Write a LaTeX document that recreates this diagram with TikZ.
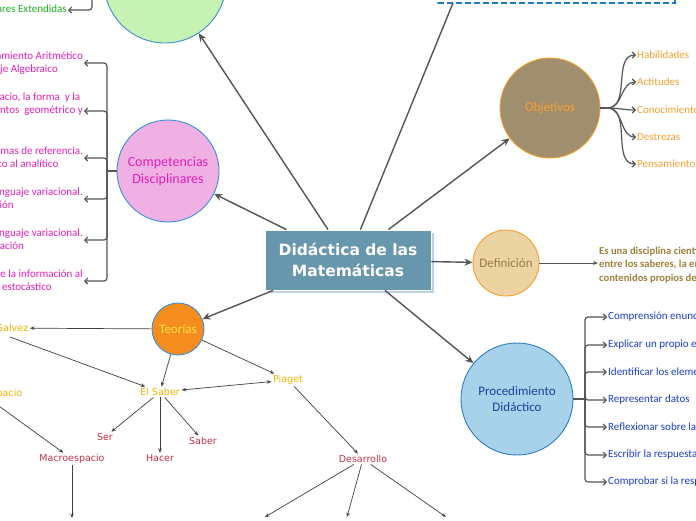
\documentclass[tikz,border=0pt]{standalone}
\usepackage{fontspec}
\setmainfont{Carlito}
\newfontfamily\dv{DejaVu Sans}
\usetikzlibrary{arrows.meta}
\definecolor{conn}{HTML}{555555}
\definecolor{titleblue}{HTML}{6896AD}
\definecolor{shadowblue}{HTML}{BBD2E0}
\definecolor{cborder}{HTML}{3A8FD6}
\definecolor{greenfill}{HTML}{C6F2B4}
\definecolor{greentext}{HTML}{1FB01F}
\definecolor{pinkfill}{HTML}{F1B0E4}
\definecolor{magenta}{HTML}{E31FB8}
\definecolor{teofill}{HTML}{F58D1F}
\definecolor{teotext}{HTML}{FFE23A}
\definecolor{yel}{HTML}{F5B400}
\definecolor{redt}{HTML}{C8304A}
\definecolor{objfill}{HTML}{A08F6E}
\definecolor{orangeb}{HTML}{F5A030}
\definecolor{deffill}{HTML}{ECD3A2}
\definecolor{deftext}{HTML}{9C7C48}
\definecolor{desctext}{HTML}{A0803C}
\definecolor{procfill}{HTML}{A8D2EA}
\definecolor{procborder}{HTML}{2A7FC2}
\definecolor{proctext}{HTML}{1C3FA8}
\definecolor{procchild}{HTML}{1C3FC8}
\definecolor{dashblue}{HTML}{1F7FC4}
\tikzset{
  maincon/.style={draw=conn, line width=1.4pt, -{Stealth[length=8pt,width=7pt,inset=2.5pt]}},
  brack/.style={draw=conn, line width=1.2pt, rounded corners=3pt},
  brackarrow/.style={brack, -{Straight Barb[length=3pt,width=6pt]}},
  thinarrow/.style={draw=black!75, line width=0.7pt, -{Stealth[length=4.5pt,width=3.5pt]}},
  bub/.style={circle, inner sep=0pt, line width=0.9pt, align=center},
  lbl/.style={inner sep=1pt, font=\fontsize{11}{13.5}\selectfont, align=left},
  teolbl/.style={inner sep=1.5pt, font=\dv\fontsize{9.6}{11}\selectfont, text=yel},
  redlbl/.style={inner sep=1.5pt, font=\dv\fontsize{9.5}{11}\selectfont, text=redt},
}
\begin{document}
\begin{tikzpicture}[x=1pt,y=-1pt]
\useasboundingbox (0,0) rectangle (696,520);
\clip (0,0) rectangle (696,520);
\fill[white] (0,0) rectangle (696,520);

% dashed box at top
\draw[dashblue, line width=1.3pt, dash pattern=on 6pt off 3pt] (438,-60) rectangle (675,3);
\coordinate (dbpt) at (453,3);

% title
\fill[shadowblue] (268,233) rectangle (434,293);
\node[rectangle, fill=titleblue, draw=white, line width=0.8pt, minimum width=166pt, minimum height=60pt,
  inner sep=0pt, text=white, align=center, font=\dv\bfseries\fontsize{15.5}{21}\selectfont] (title) at (348,260) {Didáctica de las\\Matemáticas};

% bubbles
\node[bub, fill=greenfill, draw=cborder, minimum size=122pt] (green) at (165,-18) {};
\node[bub, fill=pinkfill, draw=cborder, minimum size=102pt, text=magenta, font=\fontsize{14}{17}\selectfont] (comp) at (168,171) {Competencias\\Disciplinares};
\node[bub, fill=objfill, draw=orangeb, minimum size=100pt, text=orangeb, font=\fontsize{13}{15}\selectfont] (obj) at (550,108) {Objetivos};
\node[bub, fill=deffill, draw=orangeb, minimum size=66pt, text=deftext, font=\fontsize{13}{15}\selectfont] (def) at (506,263) {Definición};
\node[bub, fill=procfill, draw=procborder, minimum size=112pt, text=proctext, font=\fontsize{13}{15.5}\selectfont] (proc) at (517,399) {Procedimiento\\Didáctico};
\node[bub, fill=teofill, draw=cborder, minimum size=52pt, text=teotext, font=\fontsize{13}{15}\selectfont] (teo) at (178,329) {Teorías};

% main connectors
\draw[maincon] (title) -- (green);
\draw[draw=conn, line width=1.4pt] (title) -- (dbpt);
\draw[maincon] (title) -- (obj);
\draw[maincon] (title) -- (def);
\draw[maincon] (title) -- (proc);
\draw[maincon] (title) -- (comp);
\draw[maincon] (title) -- (teo);

% green child
\node[lbl, text=greentext, anchor=east] (gx) at (68,10) {Competencias Disciplinares Extendidas};
\draw[brack] (green.west) -- (92,-18) coordinate (gb);
\draw[brackarrow] (gb) |- (gx.east);

% competencias children
\node[lbl, text=magenta, anchor=east] (c1) at (84,63) {Del Pensamiento Aritmético\\al Lenguaje Algebraico};
\node[lbl, text=magenta, anchor=east] (c2) at (84,111) {Del tratamiento del espacio, la forma \ y la\\medida, a los pensamientos \ geométrico y\\trigonométrico};
\node[lbl, text=magenta, anchor=east] (c3) at (84,158) {Lugares geométricos y sistemas de referencia.\\Del pensamiento geométrico al analítico};
\node[lbl, text=magenta, anchor=east] (c4) at (84,199) {Pensamiento y lenguaje variacional.\\Cambio y predicción};
\node[lbl, text=magenta, anchor=east] (c5) at (84,240) {Pensamiento y lenguaje variacional.\\Cambio y acumulación};
\node[lbl, text=magenta, anchor=east] (c6) at (84,281) {Del manejo de la información al\\pensamiento estocástico};
\draw[brack] (comp.west) -- (107,171) coordinate (cb);
\foreach \c in {c1,c2,c3,c4,c5,c6} \draw[brackarrow] (cb) |- (\c.east);

% objetivos children
\node[lbl, text=orangeb, anchor=west] (o1) at (636,55) {Habilidades};
\node[lbl, text=orangeb, anchor=west] (o2) at (636,82) {Actitudes};
\node[lbl, text=orangeb, anchor=west] (o3) at (636,110) {Conocimientos};
\node[lbl, text=orangeb, anchor=west] (o4) at (636,137) {Destrezas};
\node[lbl, text=orangeb, anchor=west] (o5) at (636,164) {Pensamiento};
\draw[draw=conn, line width=1.3pt] (obj.east) -- ++(7,0) coordinate (ob);
\foreach \o in {o1,o2,o3,o4,o5} \draw[draw=conn, line width=1.2pt, -{Straight Barb[length=3pt,width=6pt]}] (ob) to[out=0,in=180] (\o.west);

% definicion text
\node[inner sep=1pt, anchor=west, align=left, text=desctext, font=\bfseries\fontsize{10.6}{13.5}\selectfont] (desc) at (598,265)
  {Es una disciplina científica que estudia las relaciones\\entre los saberes, la enseñanza y el aprendizaje de los\\contenidos propios de las matemáticas};
\draw[draw=conn, line width=1pt, -{Stealth[length=5pt,width=4pt]}] (def) -- (desc.west |- def);

% procedimiento children
\node[lbl, text=procchild, anchor=west] (p1) at (607,317) {Comprensión enunciado};
\node[lbl, text=procchild, anchor=west] (p2) at (607,345) {Explicar un propio enunciado};
\node[lbl, text=procchild, anchor=west] (p3) at (607,372) {Identificar los elementos};
\node[lbl, text=procchild, anchor=west] (p4) at (607,400) {Representar datos};
\node[lbl, text=procchild, anchor=west] (p5) at (607,427) {Reflexionar sobre la solución};
\node[lbl, text=procchild, anchor=west] (p6) at (607,455) {Escribir la respuesta};
\node[lbl, text=procchild, anchor=west] (p7) at (607,482) {Comprobar si la respuesta es correcta};
\draw[brack] (proc.east) -- (585,399) coordinate (pb);
\foreach \p in {p1,p2,p3,p4,p5,p6,p7} \draw[brackarrow] (pb) |- (\p.west);

% teorias subtree
\node[teolbl, anchor=east] (galvez) at (30,328) {Grecia Galvez};
\node[teolbl] (saber) at (160,392) {El Saber};
\node[teolbl] (piaget) at (288,380) {Piaget};
\node[teolbl, anchor=east] (micro) at (24,394) {Microespacio};
\node[redlbl] (ser) at (105,437) {Ser};
\node[redlbl] (hacer) at (160,458) {Hacer};
\node[redlbl] (saber2) at (203,441) {Saber};
\node[redlbl] (macro) at (72,459) {Macroespacio};
\node[redlbl] (des) at (363,459) {Desarrollo};
\coordinate (gs) at (10,337);
\coordinate (ma) at (72,518);
\coordinate (d1) at (265,517);
\coordinate (d2) at (347,517);
\coordinate (d3) at (446,517);

\draw[thinarrow] (teo) -- (galvez);
\draw[thinarrow] (teo) -- (saber);
\draw[thinarrow] (teo) -- (piaget);
\draw[thinarrow] (gs) -- (saber);
\draw[thinarrow, {Stealth[length=4.5pt,width=3.5pt]}-{Stealth[length=4.5pt,width=3.5pt]}] (saber) -- (piaget);
\draw[thinarrow] (saber) -- (ser);
\draw[thinarrow] (saber) -- (hacer);
\draw[thinarrow] (saber) -- (saber2);
\draw[thinarrow] (micro.south) -- (macro);
\draw[thinarrow] (macro) -- (ma);
\draw[thinarrow] (piaget) -- (des);
\draw[thinarrow] (des) -- (d1);
\draw[thinarrow] (des) -- (d2);
\draw[thinarrow] (des) -- (d3);
\end{tikzpicture}
\end{document}
